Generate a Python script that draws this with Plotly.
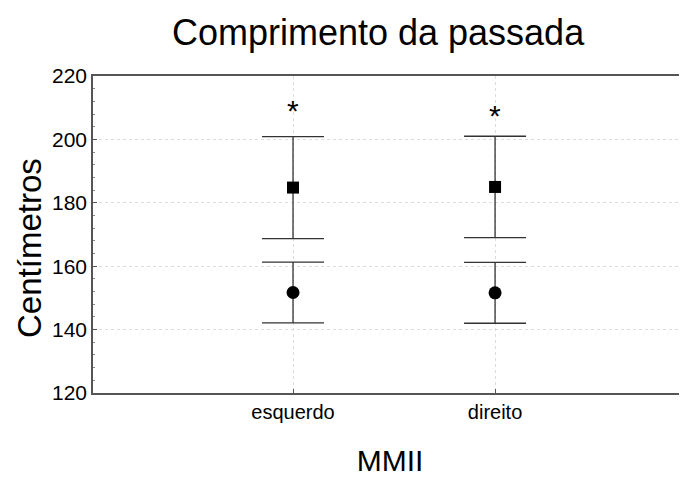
import plotly.graph_objects as go

categories = ["esquerdo", "direito"]
square_mean = [184.8, 185.0]
square_err = [16.1, 16.0]
circle_mean = [151.7, 151.6]
circle_err = [9.6, 9.6]
star_y = [210.0, 208.5]
y_ticks = [120, 140, 160, 180, 200, 220]

FONT = "Liberation Sans, Arial, sans-serif"
xs = [0, 1]

fig = go.Figure()
fig.add_trace(go.Scatter(
    x=xs, y=square_mean, mode="markers",
    marker=dict(symbol="square", size=12, color="black"),
    error_y=dict(type="data", array=square_err, color="#333", thickness=1.3, width=31),
    showlegend=False))
fig.add_trace(go.Scatter(
    x=xs, y=circle_mean, mode="markers",
    marker=dict(symbol="circle", size=13, color="black"),
    error_y=dict(type="data", array=circle_err, color="#333", thickness=1.3, width=31),
    showlegend=False))

for xv, yv in zip(xs, star_y):
    fig.add_annotation(x=xv, y=yv, text="*", showarrow=False, yshift=-3,
                       font=dict(family=FONT, size=30, color="black"))

fig.add_annotation(text="Centímetros", xref="paper", yref="paper",
                   x=-0.108, y=0.457, textangle=-90, showarrow=False,
                   xanchor="center", yanchor="middle",
                   font=dict(family=FONT, size=33, color="black"))

fig.update_layout(
    width=679, height=469,
    margin=dict(l=85, r=0, t=68, b=84),
    paper_bgcolor="white", plot_bgcolor="white",
    title=dict(text="Comprimento da passada", x=0.545, xanchor="center",
               y=0.949, yanchor="middle",
               font=dict(family=FONT, size=36, color="black")),
    xaxis=dict(range=[-0.99, 1.95], tickvals=xs, ticktext=categories,
               automargin=False,
               showline=True, linecolor="#555", linewidth=1.5, mirror=True,
               ticks="inside", ticklen=4, tickcolor="#555",
               showgrid=True, gridcolor="#dddddd", griddash="dot", gridwidth=1,
               zeroline=False,
               tickfont=dict(family=FONT, size=20, color="black"),
               title=dict(text="MMII", font=dict(family=FONT, size=30, color="black"),
                          standoff=28)),
    yaxis=dict(range=[120, 220], tickvals=y_ticks,
               automargin=False,
               showline=True, linecolor="#555", linewidth=1.5,
               ticks="inside", ticklen=4, tickcolor="#555",
               minor=dict(dtick=4, ticks="inside", ticklen=2, tickcolor="#888", showgrid=False),
               showgrid=True, gridcolor="#dddddd", griddash="dot", gridwidth=1,
               zeroline=False,
               tickfont=dict(family=FONT, size=21, color="black")),
)

fig.write_html("out.html")
